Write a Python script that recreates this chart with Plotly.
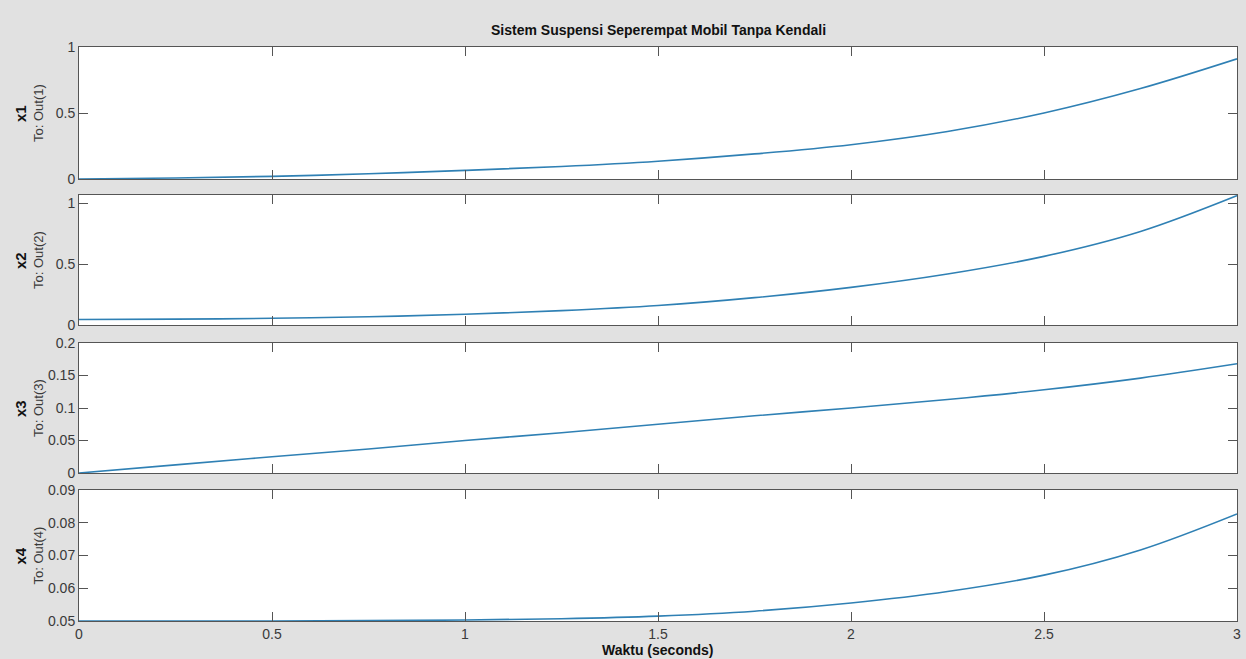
import plotly.graph_objects as go

# Time samples (seconds)
t = [0, 0.25, 0.5, 0.75, 1.0, 1.25, 1.5, 1.75, 2.0, 2.25, 2.5, 2.75, 3.0]

# State responses
x1 = [0.0, 0.008, 0.02, 0.04, 0.065, 0.095, 0.135, 0.19, 0.26, 0.36, 0.5, 0.685, 0.91]
x2 = [0.045, 0.048, 0.055, 0.068, 0.088, 0.118, 0.16, 0.225, 0.31, 0.42, 0.565, 0.77, 1.065]
x3 = [0.0, 0.0125, 0.025, 0.037, 0.05, 0.062, 0.075, 0.088, 0.1, 0.113, 0.128, 0.146, 0.168]
x4 = [0.05, 0.05, 0.05, 0.0501, 0.0503, 0.0507, 0.0515, 0.053, 0.0555, 0.059, 0.064, 0.0717, 0.0827]

series = [x1, x2, x3, x4]
names = ["x1", "x2", "x3", "x4"]
outs = ["To: Out(1)", "To: Out(2)", "To: Out(3)", "To: Out(4)"]
yranges = [[0, 1], [0, 1.07], [0, 0.2], [0.05, 0.09]]
ytickvals = [[0, 0.5, 1], [0, 0.5, 1], [0, 0.05, 0.1, 0.15, 0.2], [0.05, 0.06, 0.07, 0.08, 0.09]]
yticktext = [["0", "0.5", "1"], ["0", "0.5", "1"], ["0", "0.05", "0.1", "0.15", "0.2"],
             ["0.05", "0.06", "0.07", "0.08", "0.09"]]
xtickvals = [0, 0.5, 1, 1.5, 2, 2.5, 3]
xticktext = ["0", "0.5", "1", "1.5", "2", "2.5", "3"]

W, H = 1246, 659
px_top = [47, 195, 343, 490]
px_bot = [179, 325, 473, 621]
xdom = [79 / W, 1237 / W]

fig = go.Figure()
font_family = "Liberation Sans, Arial, sans-serif"
axis_color = "#555555"
tick_font = dict(size=14, color="#3a3a3a", family=font_family)
layout = dict(
    width=W, height=H,
    paper_bgcolor="#e1e1e1", plot_bgcolor="white",
    margin=dict(l=0, r=0, t=0, b=0),
    showlegend=False,
    font=dict(family=font_family, size=14, color="#3a3a3a"),
)
annotations = []
for i in range(4):
    k = "" if i == 0 else str(i + 1)
    fig.add_trace(go.Scatter(
        x=t, y=series[i], mode="lines", line=dict(color="#2f80b4", width=1.6, shape="spline"),
        xaxis="x" + k, yaxis="y" + k, hoverinfo="skip", cliponaxis=True))
    ydom = [1 - px_bot[i] / H, 1 - px_top[i] / H]
    layout["xaxis" + k] = dict(
        domain=xdom, range=[0, 3], anchor="y" + k,
        tickvals=xtickvals, ticktext=xticktext, showticklabels=(i == 3),
        ticks="inside", ticklen=9, tickwidth=1, tickcolor=axis_color,
        showline=True, linecolor=axis_color, linewidth=1, mirror="ticks",
        showgrid=False, zeroline=False, automargin=False,
        tickfont=tick_font,
    )
    layout["yaxis" + k] = dict(
        domain=ydom, range=yranges[i], anchor="x" + k,
        tickvals=ytickvals[i], ticktext=yticktext[i],
        ticks="inside", ticklen=9, tickwidth=1, tickcolor=axis_color,
        showline=True, linecolor=axis_color, linewidth=1, mirror="ticks",
        showgrid=False, zeroline=False, automargin=False,
        tickfont=tick_font,
    )
    yc = 1 - (px_top[i] + px_bot[i]) / 2 / H
    annotations.append(dict(
        text="<b>%s</b>" % names[i], x=20 / W, y=yc, xref="paper", yref="paper",
        xanchor="center", yanchor="middle", textangle=-90, showarrow=False,
        font=dict(size=15, color="#111111", family=font_family)))
    annotations.append(dict(
        text=outs[i], x=38 / W, y=yc, xref="paper", yref="paper",
        xanchor="center", yanchor="middle", textangle=-90, showarrow=False,
        font=dict(size=13, color="#3a3a3a", family=font_family)))

annotations.append(dict(
    text="<b>Sistem Suspensi Seperempat Mobil Tanpa Kendali</b>", x=658 / W, y=1 - 30 / H,
    xref="paper", yref="paper", xanchor="center", yanchor="middle", showarrow=False,
    font=dict(size=14, color="#111111", family=font_family)))
annotations.append(dict(
    text="<b>Waktu (seconds)</b>", x=658 / W, y=1 - 650 / H,
    xref="paper", yref="paper", xanchor="center", yanchor="middle", showarrow=False,
    font=dict(size=14, color="#111111", family=font_family)))
layout["annotations"] = annotations
fig.update_layout(**layout)
fig.write_html(
    "out.html",
    config={"displayModeBar": False},
    post_script="document.body.style.margin='0';document.body.style.padding='0';"
                "document.body.style.overflow='hidden';",
)
